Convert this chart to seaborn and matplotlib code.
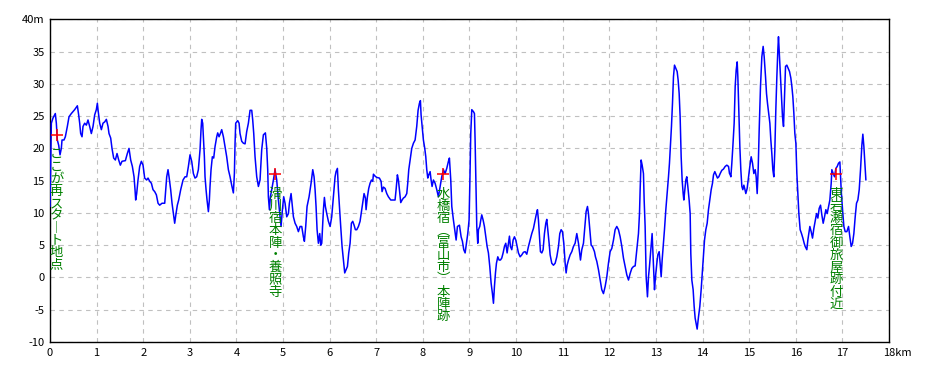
import numpy as np
import pandas as pd
import matplotlib
matplotlib.use("Agg")
import matplotlib.pyplot as plt
import matplotlib.transforms as mtransforms
import seaborn as sns

# ---------------- data (distance in km, elevation in m) ----------------
seg1_km = [0.0, 0.029, 0.064, 0.114, 0.136, 0.157, 0.186, 0.215, 0.243, 0.258, 0.300, 0.329, 0.372, 0.408, 0.458,
           0.529, 0.587, 0.615, 0.637, 0.658, 0.687, 0.708, 0.744, 0.780, 0.815, 0.851, 0.887, 0.923, 0.959, 0.994,
           1.016, 1.030, 1.066, 1.102, 1.137, 1.173, 1.209, 1.245, 1.266, 1.302, 1.330, 1.366, 1.402, 1.438, 1.474,
           1.509, 1.545, 1.617, 1.659, 1.695, 1.731, 1.767, 1.803, 1.824, 1.838, 1.860, 1.888, 1.924, 1.960, 1.996,
           2.031, 2.074, 2.103, 2.139, 2.175, 2.210, 2.246, 2.282, 2.318, 2.353, 2.403, 2.461, 2.482, 2.504, 2.532,
           2.554, 2.589, 2.618, 2.647, 2.675, 2.704, 2.732, 2.761, 2.804, 2.854]
seg1_m = [11.0, 23.9, 24.7, 25.4, 23.9, 21.3, 20.5, 19.0, 20.0, 21.3, 21.3, 21.8, 23.4, 24.9, 25.4,
          26.0, 26.6, 25.2, 23.9, 22.3, 21.8, 23.4, 23.9, 23.6, 24.4, 23.4, 22.3, 23.4, 25.2, 26.0,
          27.0, 26.0, 23.9, 22.9, 23.9, 24.1, 24.5, 23.4, 22.3, 21.6, 20.0, 18.5, 18.2, 19.2, 18.2,
          17.4, 18.0, 18.1, 19.2, 20.0, 18.2, 17.2, 15.6, 13.6, 12.0, 13.0, 15.1, 17.2, 18.0, 17.4,
          15.4, 15.1, 15.4, 14.9, 14.6, 13.6, 13.3, 12.8, 11.5, 11.2, 11.5, 11.5, 13.6, 15.6, 16.7,
          15.6, 13.6, 11.5, 9.9, 8.4, 9.9, 11.2, 12.0, 13.6, 15.1]

seg2_km = [2.897, 2.933, 2.969, 3.004, 3.040, 3.076, 3.111, 3.147, 3.183, 3.219,
           3.240, 3.255, 3.276, 3.290, 3.312, 3.326, 3.348, 3.369, 3.398, 3.419,
           3.433, 3.455, 3.483, 3.512, 3.541, 3.577, 3.598, 3.627, 3.655, 3.684,
           3.720, 3.755, 3.791, 3.827, 3.863, 3.898, 3.934, 3.956, 3.970, 3.984,
           4.027, 4.056, 4.077, 4.113, 4.149, 4.185, 4.220, 4.256, 4.292, 4.328,
           4.349, 4.371, 4.399, 4.435, 4.471, 4.506, 4.542, 4.578, 4.621, 4.650,
           4.671, 4.685, 4.707, 4.728, 4.757, 4.793, 4.828, 4.864, 4.900, 4.936,
           4.957, 4.986, 5.014, 5.043, 5.079, 5.115, 5.136, 5.172, 5.200, 5.222,
           5.258, 5.293, 5.329, 5.365, 5.401, 5.436, 5.458, 5.486, 5.515, 5.558,
           5.601, 5.637, 5.665, 5.687, 5.708, 5.730, 5.758, 5.787, 5.808, 5.830]
seg2_m = [15.6, 15.6, 17.2, 19.0, 18.0, 16.1, 15.4, 15.6, 16.7, 19.8,
          22.9, 24.5, 23.9, 21.8, 18.7, 15.6, 13.6, 12.0, 10.2, 12.0,
          14.1, 16.7, 18.7, 18.5, 20.3, 21.8, 22.4, 21.8, 22.3, 22.9,
          21.8, 20.3, 18.7, 16.7, 15.6, 14.3, 13.1, 16.1, 20.8, 23.9,
          24.3, 23.9, 22.3, 21.1, 20.8, 20.7, 22.6, 23.9, 25.9, 25.9,
          24.4, 22.3, 18.7, 15.6, 14.1, 15.1, 19.8, 22.1, 22.4, 20.0,
          16.7, 12.5, 10.5, 12.5, 13.6, 15.1, 16.7, 15.1, 12.0, 9.4,
          7.9, 10.5, 12.5, 11.5, 9.4, 9.9, 11.5, 13.0, 11.0, 9.4,
          8.4, 7.9, 7.1, 7.9, 7.9, 6.3, 5.6, 7.9, 11.0, 12.5,
          14.6, 16.7, 15.6, 13.6, 11.0, 7.4, 5.3, 6.8, 5.0, 5.3]

seg3_km = [5.866, 5.887, 5.908, 5.937, 5.973, 6.009, 6.044, 6.080, 6.116, 6.137,
           6.166, 6.187, 6.209, 6.237, 6.266, 6.295, 6.323, 6.352, 6.381, 6.409,
           6.438, 6.466, 6.495, 6.524, 6.552, 6.581, 6.617, 6.652, 6.688, 6.710,
           6.738, 6.767, 6.781, 6.810, 6.838, 6.867, 6.896, 6.924, 6.939, 6.974,
           7.010, 7.067, 7.103, 7.124, 7.153, 7.189, 7.225, 7.260, 7.311, 7.353,
           7.403, 7.425, 7.453, 7.475, 7.496, 7.525, 7.554, 7.582, 7.618, 7.654,
           7.675, 7.697, 7.725, 7.761, 7.797, 7.833, 7.868, 7.897, 7.926, 7.947,
           7.961, 7.983, 8.011, 8.040, 8.062, 8.083, 8.105, 8.126, 8.155, 8.176,
           8.197, 8.226, 8.262, 8.298, 8.333, 8.369, 8.405, 8.441, 8.476, 8.512,
           8.548, 8.569, 8.598, 8.620, 8.655, 8.684, 8.713, 8.741, 8.784]
seg3_m = [10.5, 12.4, 11.0, 9.9, 8.7, 7.9, 9.4, 12.5, 15.6, 16.4,
          16.9, 13.6, 11.0, 7.9, 4.8, 2.7, 0.7, 1.2, 1.7, 3.8,
          5.3, 8.4, 8.7, 8.1, 7.4, 7.4, 7.9, 8.7, 10.5, 11.5,
          13.0, 12.3, 10.5, 12.5, 13.8, 14.6, 15.1, 14.9, 16.0, 15.7,
          15.5, 15.4, 14.9, 13.3, 14.0, 13.8, 13.0, 12.5, 12.0, 12.0,
          12.0, 13.6, 15.9, 15.1, 13.6, 11.6, 12.0, 12.3, 12.5, 13.0,
          14.6, 16.7, 18.2, 20.0, 20.8, 21.3, 23.4, 25.9, 27.0, 27.4,
          25.2, 23.4, 21.3, 20.0, 18.7, 16.7, 15.4, 15.9, 16.4, 15.1,
          14.1, 15.1, 14.6, 13.6, 12.5, 14.1, 15.6, 16.7, 16.1, 16.9,
          18.0, 18.5, 15.1, 11.0, 8.9, 7.4, 5.8, 7.9, 8.1]

seg4_km = [8.820, 8.848, 8.877, 8.906, 8.934, 8.963, 8.991, 9.006, 9.027, 9.049,
           9.084, 9.106, 9.120, 9.142, 9.156, 9.177, 9.192, 9.220, 9.242, 9.263,
           9.292, 9.320, 9.349, 9.378, 9.406, 9.435, 9.464, 9.492, 9.514, 9.535,
           9.557, 9.578, 9.607, 9.635, 9.664, 9.692, 9.721, 9.750, 9.778, 9.807,
           9.836, 9.857, 9.878, 9.907, 9.936, 9.964, 9.993, 10.021, 10.050, 10.086,
           10.122, 10.157, 10.193, 10.229, 10.265, 10.300, 10.336, 10.372, 10.408, 10.436,
           10.458, 10.479, 10.501, 10.522, 10.551, 10.579, 10.608, 10.637, 10.658, 10.680,
           10.708, 10.730, 10.765, 10.801, 10.837, 10.873, 10.909, 10.937, 10.966, 10.994,
           11.023, 11.052, 11.073, 11.094, 11.123, 11.159, 11.195, 11.230, 11.266, 11.302,
           11.338, 11.359, 11.381, 11.409, 11.445, 11.481, 11.502, 11.531, 11.552, 11.581,
           11.610, 11.638, 11.681]
seg4_m = [6.3, 5.6, 4.3, 3.8, 5.3, 6.8, 8.9, 14.1, 22.3, 26.0,
          25.7, 25.4, 21.3, 13.6, 7.9, 5.3, 7.4, 7.9, 8.9, 9.7,
          8.9, 7.9, 6.3, 4.8, 3.8, 1.7, -0.9, -2.5, -4.0, -1.4,
          0.7, 2.2, 3.2, 2.7, 2.7, 3.0, 3.8, 4.8, 5.3, 3.8,
          5.3, 6.4, 4.8, 4.3, 5.8, 6.3, 5.8, 4.8, 3.8, 3.2,
          3.5, 3.9, 4.0, 3.6, 4.8, 5.8, 6.8, 7.6, 8.9, 9.9,
          10.5, 8.9, 6.3, 4.0, 3.8, 4.3, 6.8, 8.4, 9.0, 7.4,
          5.3, 3.5, 2.2, 1.9, 2.2, 3.2, 4.8, 6.8, 7.4, 7.1,
          5.3, 2.2, 0.7, 1.9, 2.7, 3.5, 4.0, 4.8, 5.3, 6.8,
          5.3, 4.0, 2.7, 4.3, 5.3, 8.4, 10.2, 11.0, 9.9, 7.4,
          5.0, 4.8, 4.0]

seg5_km = [11.702, 11.731, 11.767, 11.803, 11.838, 11.874, 11.910, 11.946, 11.981, 12.017,
           12.053, 12.089, 12.124, 12.160, 12.196, 12.232, 12.268, 12.303, 12.339, 12.375,
           12.411, 12.446, 12.482, 12.518, 12.554, 12.589, 12.625, 12.647, 12.661, 12.682,
           12.704, 12.732, 12.747, 12.768, 12.790, 12.818, 12.840, 12.861, 12.883, 12.904,
           12.918, 12.933, 12.947, 12.969, 12.990, 13.019, 13.040, 13.069, 13.090, 13.112,
           13.133, 13.155, 13.183, 13.212, 13.240, 13.269, 13.290, 13.312, 13.333, 13.355,
           13.376, 13.398, 13.426, 13.455, 13.476, 13.498, 13.519, 13.541, 13.562, 13.584,
           13.598, 13.619, 13.641, 13.662, 13.684, 13.712, 13.734, 13.748, 13.770, 13.798,
           13.820, 13.841, 13.863, 13.884, 13.913, 13.941, 13.970, 13.999, 14.020, 14.042,
           14.070, 14.099, 14.127, 14.156, 14.185, 14.213, 14.235, 14.263, 14.292, 14.320,
           14.349, 14.378, 14.413, 14.449, 14.485, 14.521, 14.557, 14.578]
seg5_m = [3.2, 2.5, 1.2, -0.4, -1.9, -2.5, -1.4, 0.1, 2.2, 4.0,
          4.5, 5.8, 7.4, 7.9, 7.4, 6.3, 4.8, 3.0, 1.7, 0.4,
          -0.4, 0.6, 1.4, 1.7, 1.8, 4.3, 6.8, 9.9, 13.6, 18.2,
          17.4, 16.1, 12.0, 7.9, 0.1, -3.0, 0.1, 1.7, 3.7, 5.6,
          6.8, 4.3, 1.7, -1.9, 0.1, 2.2, 3.5, 4.0, 2.2, 0.1,
          2.7, 4.8, 7.4, 10.5, 13.0, 15.6, 17.7, 20.5, 23.4, 27.0,
          31.1, 32.9, 32.4, 31.9, 30.6, 28.5, 24.9, 18.7, 15.1, 13.0,
          12.0, 13.6, 15.1, 15.6, 14.1, 12.0, 9.9, 3.7, -0.4, -1.9,
          -4.5, -6.3, -7.2, -8.0, -6.1, -4.5, -1.9, 1.2, 3.7, 5.8,
          7.4, 8.4, 10.5, 12.0, 13.6, 14.6, 15.9, 16.4, 15.9, 15.4,
          15.6, 16.1, 16.6, 16.8, 17.2, 17.4, 17.2, 16.1]

seg6_km = [14.585, 14.607, 14.628, 14.650, 14.678, 14.700, 14.721, 14.743, 14.757, 14.778,
           14.800, 14.821, 14.843, 14.864, 14.886, 14.907, 14.928, 14.957, 14.986, 15.014,
           15.043, 15.072, 15.100, 15.129, 15.150, 15.172, 15.193, 15.215, 15.243, 15.272,
           15.300, 15.322, 15.351, 15.372, 15.393, 15.415, 15.444, 15.465, 15.486, 15.508,
           15.529, 15.551, 15.572, 15.594, 15.615, 15.629, 15.651, 15.672, 15.694, 15.715,
           15.737, 15.758, 15.780, 15.808, 15.837, 15.866, 15.894, 15.916, 15.937, 15.959,
           15.980, 16.002, 16.023, 16.044, 16.066, 16.094, 16.123, 16.152, 16.180, 16.202,
           16.237, 16.259, 16.280, 16.302, 16.330, 16.359, 16.388, 16.416, 16.445, 16.474,
           16.502, 16.531, 16.559, 16.588, 16.617, 16.645, 16.674, 16.703, 16.731, 16.760,
           16.774, 16.803, 16.831, 16.860, 16.889, 16.917, 16.946, 16.974, 17.003, 17.032,
           17.060, 17.096, 17.132, 17.160, 17.189, 17.218, 17.246, 17.275, 17.303, 17.332,
           17.361, 17.389, 17.418, 17.439, 17.461, 17.482, 17.504]
seg6_m = [16.1, 15.6, 17.7, 20.3, 23.9, 29.6, 32.1, 33.4, 31.1, 26.0,
          20.3, 16.7, 14.1, 13.6, 14.3, 13.7, 13.0, 13.8, 15.6, 17.2,
          18.7, 17.7, 16.1, 16.7, 15.6, 13.0, 16.7, 22.9, 29.6, 34.2,
          35.8, 34.2, 31.1, 28.5, 27.0, 25.7, 23.9, 21.3, 19.2, 16.7,
          15.6, 19.8, 26.0, 31.1, 35.2, 37.3, 34.2, 31.1, 28.0, 24.9,
          23.4, 28.0, 32.7, 32.9, 32.4, 31.9, 30.9, 29.6, 28.0, 25.4,
          22.3, 20.8, 16.1, 13.0, 9.9, 7.4, 6.8, 6.1, 5.3, 4.8,
          4.3, 5.8, 6.8, 7.9, 7.1, 6.1, 7.6, 8.7, 9.9, 9.2,
          10.7, 11.2, 9.7, 8.4, 9.4, 10.5, 9.9, 11.0, 12.0, 14.6,
          16.7, 16.1, 15.6, 16.9, 17.2, 17.7, 17.9, 13.6, 10.5, 7.9,
          7.1, 7.1, 7.9, 6.3, 4.8, 5.3, 6.8, 9.4, 11.5, 12.0,
          13.6, 16.7, 20.5, 22.2, 20.3, 17.7, 15.1]

marker_km = [0.14, 4.83, 8.44, 16.87]
marker_m = [22.1, 16.0, 16.0, 16.0]
marker_labels = ["ここが再スタ︱ト地点",
                 "滑川宿本陣・養照寺",
                 "水橋宿︵富山市︶本陣跡",
                 "東岩瀬宿御旅屋跡付近"]

x_ticks = list(range(0, 19))
x_tick_labels = [str(v) for v in range(0, 18)] + ["18km"]
y_ticks = list(range(-10, 41, 5))
y_tick_labels = [str(v) for v in range(-10, 40, 5)] + ["40m"]

# ---------------- plotting ----------------
sns.set_theme(style="white")
plt.rcParams["font.family"] = ["Noto Sans CJK JP", "DejaVu Sans"]

km_all, m_all = [], []
for k, m in [(seg1_km, seg1_m), (seg2_km, seg2_m), (seg3_km, seg3_m),
             (seg4_km, seg4_m), (seg5_km, seg5_m), (seg6_km, seg6_m)]:
    n = min(len(k), len(m))
    km_all += k[:n]
    m_all += m[:n]
df = pd.DataFrame({"km": km_all, "m": m_all})

fig = plt.figure(figsize=(9.3, 3.72), dpi=100)
ax = fig.add_axes([50 / 930, 1 - 342 / 372, 839 / 930, (342 - 19.3) / 372])

sns.lineplot(data=df, x="km", y="m", sort=False, estimator=None,
             color="#0000ff", linewidth=1.1, ax=ax, zorder=3)
sns.scatterplot(x=marker_km, y=marker_m, marker="+", color="#ff0000",
                s=80, linewidth=1.1, ax=ax, zorder=4)

for k, m, lab in zip(marker_km, marker_m, marker_labels):
    ax.annotate("\n".join(list(lab)), xy=(k, m), xytext=(0, -9),
                textcoords="offset points", ha="center", va="top",
                color="#008000", fontsize=9.6, linespacing=0.84, zorder=5)

ax.set_xlim(0, 18)
ax.set_ylim(-10, 40)
ax.set_xticks(x_ticks)
ax.set_xticklabels(x_tick_labels)
ax.set_yticks(y_ticks)
ax.set_yticklabels(y_tick_labels)
ax.set_xlabel("")
ax.set_ylabel("")
ax.set_axisbelow(True)
ax.grid(True, color="#c0c0c0", linestyle=(0, (4, 4)), linewidth=0.8)
ax.tick_params(length=0, pad=4, labelsize=8, colors="black")
for sp in ax.spines.values():
    sp.set_visible(True)
    sp.set_color("black")
    sp.set_linewidth(1.0)

last = ax.get_xticklabels()[-1]
last.set_horizontalalignment("left")
last.set_transform(last.get_transform() + mtransforms.ScaledTranslation(-6 / 100, 0, fig.dpi_scale_trans))

fig.savefig("out.png", dpi=100)
